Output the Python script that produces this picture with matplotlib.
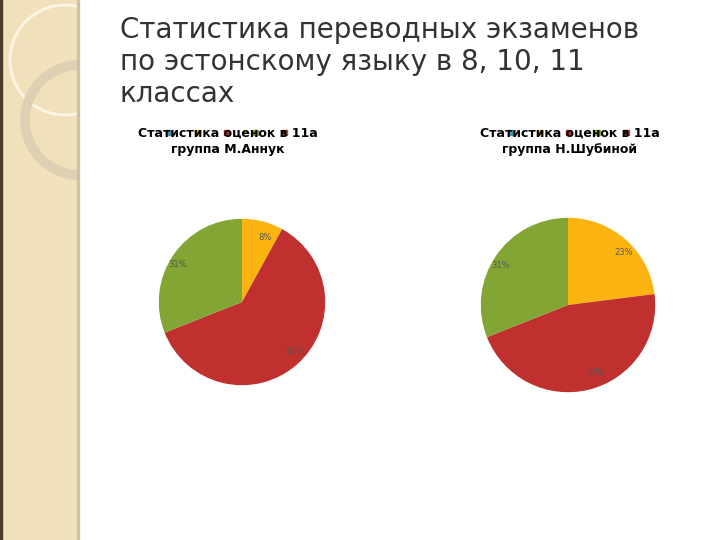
import matplotlib.pyplot as plt
from matplotlib.patches import Rectangle, Circle

grades = ['5', '4', '3', '2', '1']
colors = ['#4198AF', '#FBB40F', '#C0302F', '#83A533', '#A0522D']
left_values = [0, 8, 61, 31, 0]
right_values = [0, 23, 46, 31, 0]

W, H = 720, 540
fig = plt.figure(figsize=(7.2, 5.4), dpi=100)

# decorative left strip
bg = fig.add_axes([0, 0, 1, 1])
bg.set_xlim(0, W)
bg.set_ylim(H, 0)
bg.axis('off')
strip = Rectangle((0, 0), 78, H, color='#F1E1BA')
bg.add_patch(strip)
c1 = Circle((65, 60), 55, fill=False, lw=2, ec='#FBF6E8')
c2 = Circle((80, 120), 55, fill=False, lw=7, ec='#DDD0B3')
for c in (c1, c2):
    bg.add_patch(c)
    c.set_clip_path(strip)
bg.add_patch(Rectangle((0, 0), 2, H, color='#4A3A28'))
bg.add_patch(Rectangle((77, 0), 2, H, color='#CFC3A6'))

fig.text(120 / W, 1 - 62 / H, 'Статистика переводных экзаменов\nпо эстонскому языку в 8, 10, 11\nклассах',
         fontsize=20, color='#333333', va='center', ha='left', linespacing=1.2,
         family='DejaVu Sans')


def draw_pie(cx, cy, size, values, title, tx):
    ax = fig.add_axes([(cx - size / 2) / W, 1 - (cy + size / 2) / H, size / W, size / H])
    vals = [v for v in values if v > 0]
    cols = [c for c, v in zip(colors, values) if v > 0]
    ax.pie(vals, colors=cols, startangle=90, counterclock=False,
           labels=[f'{v}%' for v in vals], labeldistance=0.8,
           textprops={'fontsize': 6, 'color': '#555555'})
    ax.set_aspect('equal')
    fig.text(tx / W, 1 - 141 / H, title, fontsize=9, fontweight='bold',
             ha='center', va='center', linespacing=1.3)
    # legend squares across the title line
    for i, col in enumerate(colors):
        fig.patches.append(Rectangle(((tx - 62 + i * 29) / W, 1 - 135 / H), 5 / W, 5 / H,
                                     color=col, transform=fig.transFigure, figure=fig))


draw_pie(242, 302, 208, left_values, 'Статистика оценок в 11а\nгруппа М.Аннук', 228)
draw_pie(568, 305, 218, right_values, 'Статистика оценок в 11а\nгруппа Н.Шубиной', 570)

plt.savefig('out.png', dpi=100)
